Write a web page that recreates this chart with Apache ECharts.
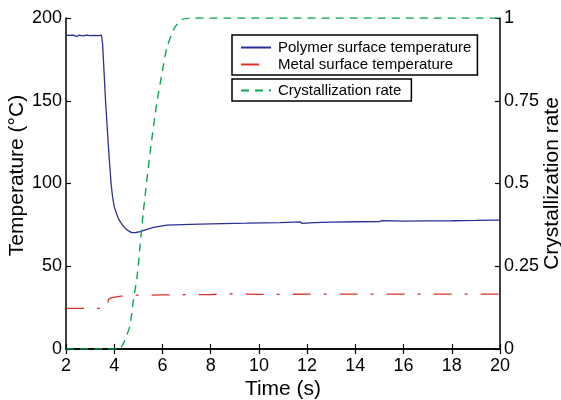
<!DOCTYPE html>
<html>
<head>
<meta charset="utf-8">
<script src="https://cdn.jsdelivr.net/npm/echarts@6/dist/echarts.min.js"></script>
<style>
  html, body { margin: 0; padding: 0; background: #fff; }
  #chart { width: 561px; height: 400px; }
</style>
</head>
<body>
<div id="chart"></div>
<script>
// Polymer surface temperature (°C) against time (s)
var polyTime = [2.0, 2.3, 2.45, 2.55, 2.7, 2.85, 3.0, 3.2, 3.35, 3.42, 3.47, 3.52, 3.58, 3.64, 3.7, 3.76, 3.82, 3.87, 3.93, 4.0, 4.1, 4.2, 4.32, 4.45, 4.58, 4.72, 4.9, 5.07, 5.3, 5.62, 6.18, 6.8, 7.56, 8.5, 9.5, 10.88, 11.7, 11.8, 12.3, 13.0, 14.0, 15.0, 15.1, 16.0, 17.0, 18.0, 19.0, 19.7, 20.0];
var polyTemp = [189.5, 189.6, 188.8, 189.7, 189.2, 189.6, 189.4, 189.5, 189.3, 190.3, 189.6, 184.0, 167.0, 150.0, 136.0, 122.0, 110.0, 100.0, 92.0, 86.0, 81.5, 78.0, 75.5, 73.0, 71.5, 70.3, 70.4, 70.9, 72.0, 73.5, 74.9, 75.2, 75.5, 75.8, 76.0, 76.3, 76.8, 75.9, 76.4, 76.7, 76.9, 77.0, 77.6, 77.3, 77.4, 77.5, 77.7, 77.9, 77.9];

// Metal surface temperature (°C) against time (s)
var metalTime = [2.0, 3.7, 3.76, 3.9, 4.1, 4.38, 5.0, 6.0, 8.0, 8.7, 8.75, 10.0, 14.0, 20.0];
var metalTemp = [24.5, 24.5, 30.0, 31.0, 31.5, 32.2, 32.5, 32.7, 32.9, 33.4, 33.0, 33.0, 33.2, 33.2];

// Crystallization rate (0–1) against time (s)
var crysTime = [2.0, 4.2, 4.4, 4.65, 4.8, 4.95, 5.2, 5.5, 5.76, 6.0, 6.18, 6.5, 6.8, 7.2, 20.0];
var crysRate = [0, 0, 0.02, 0.07, 0.15, 0.22, 0.41, 0.6, 0.74, 0.84, 0.91, 0.97, 0.995, 1, 1];

var seriesNames = ['Polymer surface temperature', 'Metal surface temperature', 'Crystallization rate'];

function pairs(xs, ys) {
  return xs.map(function (x, i) { return [x, ys[i]]; });
}

var FONT = 'Liberation Sans, Arial, Helvetica, sans-serif';
var axisLine = { show: true, lineStyle: { color: '#000', width: 1.5 } };
var tickIn = { show: true, inside: true, length: 5, lineStyle: { color: '#000', width: 1.2 } };
var tickText = { color: '#000', fontSize: 18, fontFamily: FONT };
var nameText = { color: '#000', fontSize: 21, fontFamily: FONT };

var legendBase = {
  orient: 'vertical',
  left: 232,
  itemWidth: 30,
  itemHeight: 14,
  itemGap: 2,
  borderColor: '#000',
  borderWidth: 1.5,
  borderRadius: 0,
  selectedMode: false,
  itemStyle: { opacity: 0 },
  textStyle: { color: '#000', fontSize: 15, fontFamily: FONT, lineHeight: 15, padding: [0, 0, 0, 2] }
};

var chart = echarts.init(document.getElementById('chart'), null, { renderer: 'canvas' });
chart.setOption({
  animation: false,
  backgroundColor: '#fff',
  grid: { left: 66, right: 61, top: 18, bottom: 51, containLabel: false, outerBoundsMode: 'none' },
  legend: [
    Object.assign({}, legendBase, {
      top: 35,
      padding: [5, 6, 3, 8],
      data: [seriesNames[0], seriesNames[1]]
    }),
    Object.assign({}, legendBase, {
      top: 79,
      padding: [4, 10, 3, 8],
      data: [seriesNames[2]]
    })
  ],
  xAxis: [
    {
      type: 'value', min: 2, max: 20, interval: 2,
      name: 'Time (s)', nameLocation: 'middle', nameGap: 30, nameMoveOverlap: false, nameTextStyle: nameText,
      axisLine: axisLine, axisTick: tickIn,
      axisLabel: Object.assign({ margin: 8 }, tickText),
      splitLine: { show: false }
    },
    {
      type: 'value', position: 'top', min: 2, max: 20, interval: 2,
      axisLine: axisLine, axisTick: tickIn,
      axisLabel: { show: false }, splitLine: { show: false }
    }
  ],
  yAxis: [
    {
      type: 'value', min: 0, max: 200, interval: 50, position: 'left',
      name: 'Temperature (°C)', nameLocation: 'middle', nameGap: 38, nameRotate: 90, nameMoveOverlap: false,
      nameTextStyle: Object.assign({ padding: [0, 0, 0, 16] }, nameText),
      axisLine: axisLine, axisTick: tickIn,
      axisLabel: Object.assign({ margin: 4 }, tickText),
      splitLine: { show: false }
    },
    {
      type: 'value', min: 0, max: 1, interval: 0.25, position: 'right',
      name: 'Crystallization rate', nameLocation: 'middle', nameGap: 42, nameRotate: 90, nameMoveOverlap: false, nameTextStyle: nameText,
      axisLine: axisLine, axisTick: tickIn,
      axisLabel: Object.assign({ margin: 4 }, tickText),
      splitLine: { show: false }
    }
  ],
  series: [
    {
      name: seriesNames[0], type: 'line', xAxisIndex: 0, yAxisIndex: 0,
      data: pairs(polyTime, polyTemp), showSymbol: false, symbol: 'none',
      lineStyle: { color: '#2b2f96', width: 1.3 }, itemStyle: { color: '#2b2f96' }
    },
    {
      name: seriesNames[1], type: 'line', xAxisIndex: 0, yAxisIndex: 0,
      data: pairs(metalTime, metalTemp), showSymbol: false, symbol: 'none',
      lineStyle: { color: '#d8302a', width: 1.3, type: [18, 13, 3, 13] }, itemStyle: { color: '#d8302a' }
    },
    {
      name: seriesNames[2], type: 'line', xAxisIndex: 0, yAxisIndex: 1,
      data: pairs(crysTime, crysRate), showSymbol: false, symbol: 'none', smooth: 0.2,
      lineStyle: { color: '#0aa84f', width: 1.4, type: [8, 6] }, itemStyle: { color: '#0aa84f' }
    }
  ]
});
</script>
</body>
</html>
